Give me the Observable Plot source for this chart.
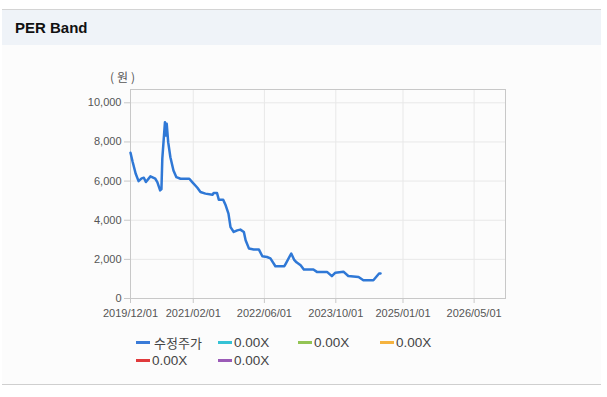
<!DOCTYPE html>
<html>
<head>
<meta charset="utf-8">
<script src="https://cdn.jsdelivr.net/npm/d3@7"></script>
<script src="https://cdn.jsdelivr.net/npm/@observablehq/plot@0.6"></script>
<style>
  html, body { margin: 0; padding: 0; background: #ffffff; width: 607px; height: 397px; overflow: hidden; }
  #box { position: absolute; left: 2px; top: 9px; width: 599px; height: 374px; background: #fcfcfc;
         border-top: 1px solid #d4d4d4; border-bottom: 1px solid #cfcfcf; }
  #head { position: absolute; left: 0; top: 0; width: 599px; height: 35px; background: #eff3f8; }
  #title { position: absolute; left: 13px; top: 9px; font: bold 15px "Liberation Sans", Arial, sans-serif; color: #111; }
  #chart { position: absolute; left: 0; top: 45px; }
  #unit { position: absolute; left: 110px; top: 68px; font: 12px "Noto Sans CJK KR", sans-serif; color: #555; letter-spacing: 3px; }
  .leg { position: absolute; display: flex; align-items: center; font: 13.5px "Liberation Sans", Arial, sans-serif; color: #444; }
  .leg .sw { width: 14px; height: 3px; margin-right: 2px; }
  .leg .ko { font-family: "Noto Sans CJK KR", sans-serif; font-size: 13px; }
</style>
</head>
<body>
<div id="box"><div id="head"><div id="title">PER Band</div></div></div>
<div id="chart"></div>
<div id="unit">(원)</div>
<div id="legend"></div>
<script>
// Price series (수정주가)
const dates = [
  "2019-12-01","2019-12-15","2020-01-05","2020-01-25","2020-02-15","2020-03-01","2020-03-15",
  "2020-04-15","2020-05-18","2020-06-01","2020-06-20","2020-06-29","2020-07-05","2020-07-23",
  "2020-07-30","2020-08-04","2020-08-14","2020-08-29","2020-09-19","2020-10-09","2020-11-06",
  "2021-01-05","2021-01-25","2021-03-01","2021-03-22","2021-04-25","2021-06-12","2021-06-20",
  "2021-07-13","2021-07-25","2021-08-24","2021-09-10","2021-09-29","2021-10-13","2021-11-04",
  "2021-11-28","2021-12-19","2022-01-12","2022-01-24","2022-02-16","2022-03-20","2022-04-24",
  "2022-05-18","2022-06-19","2022-07-12","2022-08-15","2022-10-15","2022-10-25","2022-12-01",
  "2022-12-20","2023-01-06","2023-02-03","2023-02-25","2023-05-01","2023-05-25","2023-08-02",
  "2023-09-04","2023-09-28","2023-11-22","2023-12-25","2024-03-04","2024-04-06","2024-06-13",
  "2024-07-22","2024-08-01"
];
const prices = [
  7450, 7000, 6390, 6000, 6140, 6170, 5950,
  6240, 6120, 5950, 5525, 5590, 7160, 9010,
  8330, 8930, 7990, 7220, 6545, 6200, 6120,
  6120, 5950, 5660, 5440, 5360, 5300, 5390,
  5390, 5050, 5050, 4760, 4340, 3650, 3400,
  3480, 3520, 3400, 2975, 2550, 2500, 2510,
  2160, 2120, 2050, 1650, 1650, 1785, 2300,
  1990, 1850, 1700, 1480, 1480, 1360, 1360,
  1140, 1320, 1370, 1150, 1100, 930, 930,
  1275, 1280
];
const xTickLabels = ["2019/12/01","2021/02/01","2022/06/01","2023/10/01","2025/01/01","2026/05/01"];
const yTicks = [0, 2000, 4000, 6000, 8000, 10000];
const legendNames = ["수정주가","0.00X","0.00X","0.00X","0.00X","0.00X"];
const legendColors = ["#3a7bd8","#35c2d5","#93c454","#f5b33f","#e03a3c","#9b5bb7"];

const data = dates.map((d, i) => ({date: new Date(d + "T00:00:00Z"), price: prices[i]}));
const xTicks = xTickLabels.map(s => new Date(s.replace(/\//g, "-") + "T00:00:00Z"));

const chart = Plot.plot({
  width: 607, height: 275,
  marginLeft: 130, marginRight: 102, marginTop: 44, marginBottom: 22,
  style: {background: "transparent", fontFamily: "'Liberation Sans', Arial, sans-serif", fontSize: "11px", color: "#555", overflow: "visible"},
  x: {type: "utc", domain: [new Date("2019-12-01T00:00:00Z"), new Date("2026-12-01T00:00:00Z")]},
  y: {domain: [0, 10680]},
  marks: [
    Plot.gridX(xTicks, {stroke: "#e8e8e8", strokeOpacity: 1}),
    Plot.gridY(yTicks, {stroke: "#e8e8e8", strokeOpacity: 1}),
    Plot.frame({stroke: "#c8c8c8"}),
    Plot.axisX(xTicks, {tickFormat: d3.utcFormat("%Y/%m/%d"), tickSize: 5, tickPadding: 6, stroke: "#c8c8c8", fill: "#555", label: null}),
    Plot.axisY(yTicks, {tickFormat: d3.format(","), tickSize: 6, tickPadding: 3, stroke: "#c8c8c8", fill: "#555", label: null}),
    Plot.line(data, {x: "date", y: "price", stroke: "#2f78d6", strokeWidth: 2.5, strokeLinejoin: "round"})
  ]
});
document.getElementById("chart").appendChild(chart);

// legend
const legPos = [[136, 342], [218, 342], [298, 342], [380, 342], [136, 360], [218, 360]];
const legend = document.getElementById("legend");
legendNames.forEach((name, i) => {
  const item = document.createElement("div");
  item.className = "leg";
  item.style.left = legPos[i][0] + "px";
  item.style.top = (legPos[i][1] - 9) + "px";
  item.style.height = "18px";
  const sw = document.createElement("span");
  sw.className = "sw";
  sw.style.background = legendColors[i];
  const tx = document.createElement("span");
  tx.textContent = name;
  if (i === 0) { tx.className = "ko"; sw.style.marginRight = "4px"; }
  item.appendChild(sw);
  item.appendChild(tx);
  legend.appendChild(item);
});
</script>
</body>
</html>
